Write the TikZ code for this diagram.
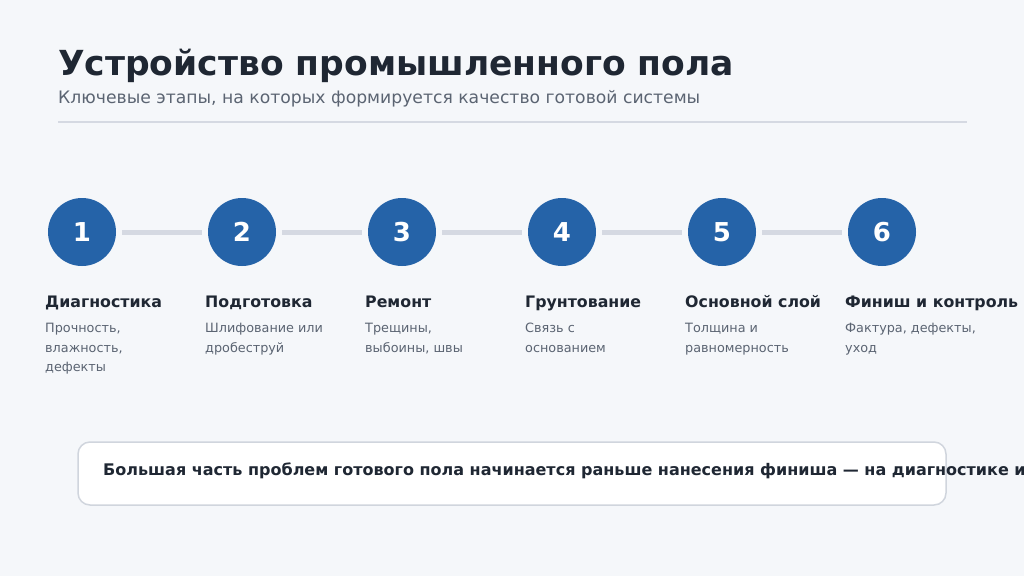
\documentclass[tikz,border=0pt]{standalone}
\usepackage{fontspec}
\setmainfont{DejaVu Sans}
\usetikzlibrary{positioning}
\definecolor{bgcol}{HTML}{F5F7FA}
\definecolor{stepblue}{HTML}{2563A8}
\definecolor{linegray}{HTML}{D5D9E2}
\definecolor{darktext}{HTML}{1F2733}
\definecolor{graytext}{HTML}{5B6472}
\definecolor{boxline}{HTML}{D0D5DD}
\tikzset{
  stepcircle/.style={circle, fill=stepblue, minimum size=68pt, inner sep=0pt, text=white, font=\fontsize{26}{28}\selectfont\bfseries},
  link/.style={line width=5pt, color=linegray, shorten <=6pt, shorten >=6pt},
  steptitle/.style={anchor=base west, inner sep=0pt, text=darktext, font=\fontsize{15.8}{18}\selectfont\bfseries},
  stepnote/.style={anchor=north west, inner sep=0pt, align=left, text=graytext, font=\fontsize{12.8}{19.5}\selectfont},
}

\begin{document}
\begin{tikzpicture}[x=1pt, y=-1pt]
\fill [bgcol] (0,0) rectangle (1024,576);
\useasboundingbox (0,0) rectangle (1024,576);
% heading
\node [anchor=base west, inner sep=0pt, text=darktext, font=\fontsize{34.5}{40}\selectfont\bfseries] (title) at (58,75) {Устройство промышленного пола};
\node [anchor=base west, inner sep=0pt, text=graytext, font=\fontsize{17.2}{20}\selectfont] (subtitle) at (58,103) {Ключевые этапы, на которых формируется качество готовой системы};
\draw [line width=1.5pt, color=linegray] (58,122) to (967,122);
% steps
\node [stepcircle] (c1) at (82,232) {1};
\node [stepcircle] (c2) at (242,232) {2};
\node [stepcircle] (c3) at (402,232) {3};
\node [stepcircle] (c4) at (562,232) {4};
\node [stepcircle] (c5) at (722,232) {5};
\node [stepcircle] (c6) at (882,232) {6};
\draw [link] (c1) to (c2);
\draw [link] (c2) to (c3);
\draw [link] (c3) to (c4);
\draw [link] (c4) to (c5);
\draw [link] (c5) to (c6);
\node [steptitle] (t1) at (45,307) {Диагностика};
\node [stepnote] (n1) at (45,323) {Прочность,\\влажность,\\дефекты};
\node [steptitle] (t2) at (205,307) {Подготовка};
\node [stepnote] (n2) at (205,323) {Шлифование или\\дробеструй};
\node [steptitle] (t3) at (365,307) {Ремонт};
\node [stepnote] (n3) at (365,323) {Трещины,\\выбоины, швы};
\node [steptitle] (t4) at (525,307) {Грунтование};
\node [stepnote] (n4) at (525,323) {Связь с\\основанием};
\node [steptitle] (t5) at (685,307) {Основной слой};
\node [stepnote] (n5) at (685,323) {Толщина и\\равномерность};
\node [steptitle] (t6) at (845,307) {Финиш и контроль};
\node [stepnote] (n6) at (845,323) {Фактура, дефекты,\\уход};
% note box
\draw [fill=white, draw=boxline, line width=1.5pt, rounded corners=12pt] (78,442) rectangle (946,505);
\node [anchor=base west, inner sep=0pt, text=darktext, font=\fontsize{16}{18}\selectfont\bfseries] (note) at (103,475) {Большая часть проблем готового пола начинается раньше нанесения финиша — на диагностике и};
\end{tikzpicture}
\end{document}
